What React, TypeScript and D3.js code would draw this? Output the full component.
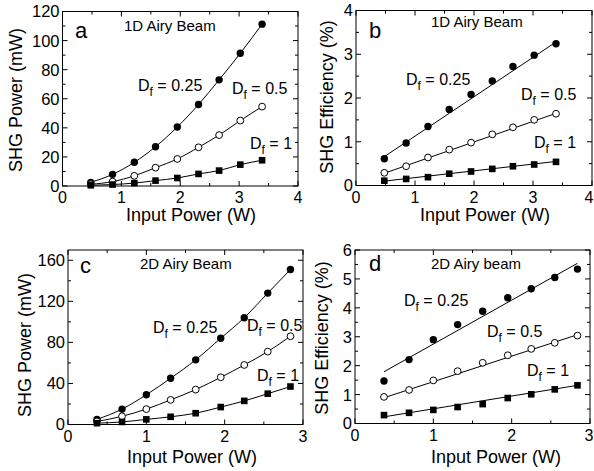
import React from "react";
import * as d3 from "d3";

// input power (W) for the 1D panels and the 2D panels
const x1D = [0.48, 0.85, 1.22, 1.58, 1.95, 2.31, 2.66, 3.02, 3.39];
const x2D = [0.37, 0.69, 1.0, 1.31, 1.63, 1.95, 2.25, 2.55, 2.84];

// a: 1D SHG power (mW)
const aD025 = [2.5, 8, 16.3, 27, 40.6, 56, 73, 91.3, 111.3];
const aD05 = [1.2, 3, 7, 12.6, 18.6, 26.6, 35, 45, 54.6];
const aD1 = [0.5, 1, 2, 3.7, 5.5, 8.3, 10.6, 14.7, 17.7];

// b: 1D SHG efficiency (%)
const bD025 = [0.61, 0.97, 1.35, 1.74, 2.08, 2.39, 2.72, 2.98, 3.24];
const bD05 = [0.29, 0.44, 0.64, 0.82, 0.98, 1.17, 1.33, 1.5, 1.64];
const bD1 = [0.11, 0.15, 0.19, 0.27, 0.32, 0.38, 0.44, 0.48, 0.54];
const bFit = [[0.66, 3.28], [0.28, 1.65], [0.1, 0.55]];

// c: 2D SHG power (mW)
const cD025 = [5, 15, 29, 45, 63, 84, 104, 128, 151];
const cD05 = [3, 8, 15, 24, 34, 46, 58, 71, 86];
const cD1 = [1.3, 2.5, 5, 7.5, 11, 17, 23, 30, 37];

// d: 2D SHG efficiency (%)
const dD025 = [1.47, 2.21, 2.9, 3.42, 3.88, 4.35, 4.66, 5.05, 5.34];
const dD05 = [0.92, 1.16, 1.49, 1.81, 2.1, 2.36, 2.58, 2.79, 3.04];
const dD1 = [0.29, 0.37, 0.47, 0.57, 0.67, 0.88, 1.01, 1.18, 1.32];
const dFit = [[1.79, 5.54], [0.89, 3.07], [0.23, 1.32]];

const markers = ["filled", "open", "square"];
const dfText = ["0.25", "0.5", "1"];

const FONT = "'Liberation Sans', Arial, Helvetica, sans-serif";

type Cfg = {
  letter: string;
  title: string;
  box: [number, number, number, number]; // left, right, top, bottom
  xMax: number;
  yMax: number;
  yMajor: number;
  yMinor: number;
  yLabel: string;
  yTitle: [number, number];
  xTitle: [number, number];
  letterPos: [number, number];
  titlePos: [number, number];
  dfPos: [number, number][];
  xs: number[];
  series: number[][];
  fits?: number[][];
};

const panels: Cfg[] = [
  {
    letter: "a", title: "1D Airy Beam", box: [62.5, 298, 11.5, 186], xMax: 4, yMax: 120,
    yMajor: 20, yMinor: 10, yLabel: "SHG Power (mW)", yTitle: [16, 100], xTitle: [191, 220.5],
    letterPos: [75, 38], titlePos: [124, 31],
    dfPos: [[138, 91], [232, 94], [250, 149]], xs: x1D, series: [aD025, aD05, aD1],
  },
  {
    letter: "b", title: "1D Airy Beam", box: [356, 592, 10.5, 185.5], xMax: 4, yMax: 4,
    yMajor: 1, yMinor: 0.5, yLabel: "SHG Efficiency (%)", yTitle: [327, 97], xTitle: [485, 220.5],
    letterPos: [369, 38], titlePos: [431, 27],
    dfPos: [[406, 85], [521, 100], [534, 148]], xs: x1D, series: [bD025, bD05, bD1], fits: bFit,
  },
  {
    letter: "c", title: "2D Airy Beam", box: [68, 303, 250, 424.5], xMax: 3, yMax: 170,
    yMajor: 40, yMinor: 20, yLabel: "SHG Power (mW)", yTitle: [25, 345], xTitle: [192, 463],
    letterPos: [80, 273], titlePos: [140, 269],
    dfPos: [[153, 333], [247, 331], [257, 381]], xs: x2D, series: [cD025, cD05, cD1],
  },
  {
    letter: "d", title: "2D Airy beam", box: [355, 590, 250, 423.5], xMax: 3, yMax: 6,
    yMajor: 1, yMinor: 0.5, yLabel: "SHG Efficiency (%)", yTitle: [322, 338], xTitle: [496, 463],
    letterPos: [369, 271], titlePos: [431, 269],
    dfPos: [[404, 306], [487, 337], [527, 376]], xs: x2D, series: [dD025, dD05, dD1], fits: dFit,
  },
];

function Marker({ kind, x, y }: { kind: string; x: number; y: number }) {
  if (kind === "square") return <rect x={x - 3.3} y={y - 3.3} width={6.6} height={6.6} fill="#000" />;
  if (kind === "open") return <circle cx={x} cy={y} r={3.4} fill="#fff" stroke="#000" strokeWidth={1} />;
  return <circle cx={x} cy={y} r={3.7} fill="#000" />;
}

function Panel({ p }: { p: Cfg }) {
  const [l, r, t, b] = p.box;
  const xScale = d3.scaleLinear().domain([0, p.xMax]).range([l, r]);
  const yScale = d3.scaleLinear().domain([0, p.yMax]).range([b, t]);
  const xMaj = d3.range(0, p.xMax + 0.001, 1);
  const xMin = d3.range(0.5, p.xMax, 1);
  const yMaj = d3.range(0, p.yMax + 0.001, p.yMajor);
  const yMin = d3.range(0, p.yMax + 0.001, p.yMinor).filter((v) => !yMaj.includes(v));
  const curve = d3.line<number>().x((_, i) => xScale(p.xs[i])).y((v) => yScale(v)).curve(d3.curveMonotoneX);

  return (
    <g>
      <rect x={l} y={t} width={r - l} height={b - t} fill="none" stroke="#000" strokeWidth={1} />
      {xMaj.map((v) => (
        <g key={"xM" + v}>
          <line x1={xScale(v)} x2={xScale(v)} y1={b} y2={b - 5} stroke="#000" />
          <line x1={xScale(v)} x2={xScale(v)} y1={t} y2={t + 5} stroke="#000" />
          {/* keep the last label inside the 594px frame */}
          <text x={Math.min(xScale(v), 589)} y={b + 17} textAnchor="middle" fontSize={16}>{v}</text>
        </g>
      ))}
      {xMin.map((v) => (
        <g key={"xm" + v}>
          <line x1={xScale(v)} x2={xScale(v)} y1={b} y2={b - 3} stroke="#000" />
          <line x1={xScale(v)} x2={xScale(v)} y1={t} y2={t + 3} stroke="#000" />
        </g>
      ))}
      {yMaj.map((v) => (
        <g key={"yM" + v}>
          <line x1={l} x2={l + 5} y1={yScale(v)} y2={yScale(v)} stroke="#000" />
          <line x1={r} x2={r - 5} y1={yScale(v)} y2={yScale(v)} stroke="#000" />
          <text x={l - 3} y={yScale(v)} dy="0.36em" textAnchor="end" fontSize={16.5}>{v}</text>
        </g>
      ))}
      {yMin.map((v) => (
        <g key={"ym" + v}>
          <line x1={l} x2={l + 3} y1={yScale(v)} y2={yScale(v)} stroke="#000" />
          <line x1={r} x2={r - 3} y1={yScale(v)} y2={yScale(v)} stroke="#000" />
        </g>
      ))}
      <text x={p.xTitle[0]} y={p.xTitle[1]} textAnchor="middle" fontSize={18}>Input Power (W)</text>
      <text transform={`translate(${p.yTitle[0]},${p.yTitle[1]}) rotate(-90)`} textAnchor="middle" dy="0.35em" fontSize={18}>
        {p.yLabel}
      </text>
      <text x={p.letterPos[0]} y={p.letterPos[1]} fontSize={22}>{p.letter}</text>
      <text x={p.titlePos[0]} y={p.titlePos[1]} fontSize={15}>{p.title}</text>

      {p.series.map((s, k) =>
        p.fits ? (
          <line key={"f" + k} x1={xScale(p.xs[0])} x2={xScale(p.xs[p.xs.length - 1])}
            y1={yScale(p.fits[k][0])} y2={yScale(p.fits[k][1])} stroke="#000" strokeWidth={1} />
        ) : (
          <path key={"c" + k} d={curve(s) || ""} fill="none" stroke="#000" strokeWidth={1} />
        )
      )}
      {p.series.map((s, k) =>
        s.map((v, i) => <Marker key={k + "-" + i} kind={markers[k]} x={xScale(p.xs[i])} y={yScale(v)} />)
      )}
      {p.dfPos.map((pos, k) => (
        <text key={"df" + k} x={pos[0]} y={pos[1]} fontSize={16}>
          D<tspan fontSize={12} dy={5}>f</tspan>
          <tspan dy={-5}>{" = " + dfText[k]}</tspan>
        </text>
      ))}
    </g>
  );
}

export default function App() {
  return (
    <svg width={594} height={471} style={{ position: "absolute", left: 0, top: 0, background: "#fff" }}
      fontFamily={FONT} fill="#000">
      <rect width={594} height={471} fill="#fff" />
      {panels.map((p) => <Panel key={p.letter} p={p} />)}
    </svg>
  );
}
